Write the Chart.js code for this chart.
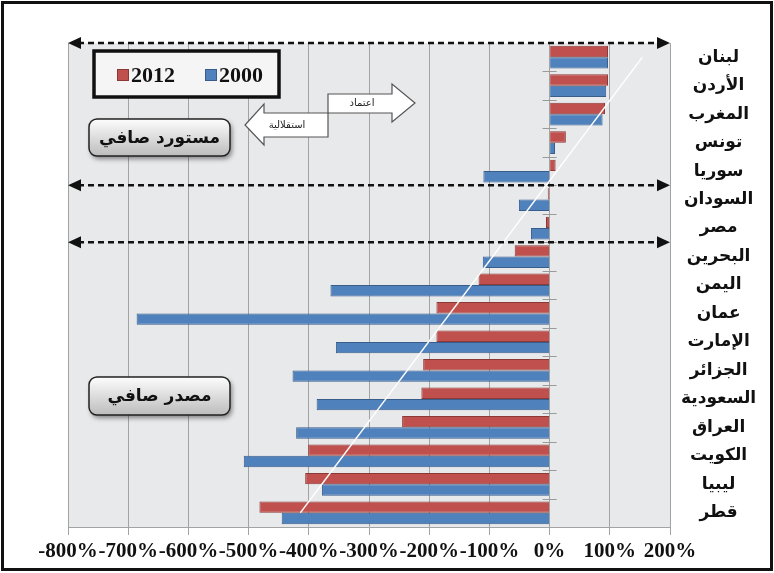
<!DOCTYPE html>
<html>
<head>
<meta charset="utf-8">
<script src="https://cdn.jsdelivr.net/npm/chart.js@4.4.0/dist/chart.umd.min.js"></script>
<style>
  html, body { margin: 0; padding: 0; background: #fff; }
  #wrap { width: 774px; height: 573px; position: relative; }
</style>
</head>
<body>
<div id="wrap"><canvas id="bar"></canvas></div>
<script>
// Data
var countries = ["لبنان", "الأردن", "المغرب", "تونس", "سوريا", "السودان", "مصر", "البحرين", "اليمن", "عمان", "الإمارت", "الجزائر", "السعودية", "العراق", "الكويت", "ليبيا", "قطر"];
var values2012 = [97, 97, 92, 27, 10, -3, -6, -58, -118, -188, -188, -210, -213, -245, -401, -406, -482];
var values2000 = [97, 94, 88, 9, -110, -51, -31, -111, -364, -686, -355, -427, -387, -421, -508, -378, -445];
var seriesNames = ["2012", "2000"];
var xMin = -800, xMax = 200, xStep = 100;
// white guide line, from Qatar to Lebanon
var trendCats = ["قطر", "لبنان"];
var trendValues = [-414, 154];
// dashed separators sit between these pairs of categories
var splitAfter = ["سوريا", "مصر"];

var RED = "#c0504d", RED_EDGE = "#8c3836";
var BLUE = "#4f81bd", BLUE_EDGE = "#385d8a";

function dashArrow(c, x1, x2, y) {
  c.save();
  c.strokeStyle = "#111";
  c.lineWidth = 2.5;
  c.setLineDash([6, 4]);
  c.beginPath();
  c.moveTo(x1 + 10, y);
  c.lineTo(x2 - 10, y);
  c.stroke();
  c.setLineDash([]);
  c.fillStyle = "#111";
  c.beginPath();
  c.moveTo(x1, y); c.lineTo(x1 + 13, y - 6); c.lineTo(x1 + 13, y + 6); c.closePath();
  c.fill();
  c.beginPath();
  c.moveTo(x2, y); c.lineTo(x2 - 13, y - 6); c.lineTo(x2 - 13, y + 6); c.closePath();
  c.fill();
  c.restore();
}

function pillBox(c, x, y, w, h, text) {
  c.save();
  c.shadowColor = "rgba(0,0,0,0.45)";
  c.shadowBlur = 5;
  c.shadowOffsetX = 2;
  c.shadowOffsetY = 3;
  var g = c.createLinearGradient(0, y, 0, y + h);
  g.addColorStop(0, "#fdfdfd");
  g.addColorStop(1, "#bcbcbc");
  c.fillStyle = g;
  c.beginPath();
  c.roundRect(x, y, w, h, 8);
  c.fill();
  c.shadowColor = "transparent";
  c.lineWidth = 1.5;
  c.strokeStyle = "#222";
  c.stroke();
  c.fillStyle = "#111";
  c.font = "bold 17px 'DejaVu Sans'";
  c.textAlign = "center";
  c.textBaseline = "middle";
  c.direction = "rtl";
  c.fillText(text, x + w / 2, y + h / 2 + 1);
  c.restore();
}

function blockArrow(c, pts, text, tx, ty) {
  c.save();
  c.fillStyle = "#fff";
  c.strokeStyle = "#555";
  c.lineWidth = 1.2;
  c.beginPath();
  c.moveTo(pts[0][0], pts[0][1]);
  for (var i = 1; i < pts.length; i++) c.lineTo(pts[i][0], pts[i][1]);
  c.closePath();
  c.fill();
  c.stroke();
  c.fillStyle = "#222";
  c.font = "10px 'DejaVu Sans'";
  c.textAlign = "center";
  c.textBaseline = "middle";
  c.direction = "rtl";
  c.fillText(text, tx, ty);
  c.restore();
}

var decor = {
  id: "decor",
  beforeDraw: function (chart) {
    var c = chart.ctx, a = chart.chartArea;
    c.save();
    c.fillStyle = "#e8e9eb";
    c.fillRect(a.left, a.top, a.right - a.left, a.bottom - a.top);
    c.restore();
  },
  afterDatasetsDraw: function (chart) {
    var c = chart.ctx, xs = chart.scales.x, ys = chart.scales.y;
    // small ticks on the zero axis
    c.save();
    c.strokeStyle = "#9a9a9a";
    c.lineWidth = 1;
    var x0 = xs.getPixelForValue(0);
    for (var i = 1; i < countries.length; i++) {
      var yy = Math.round(ys.getPixelForValue(i - 0.5)) + 0.5;
      c.beginPath();
      c.moveTo(x0 - 7, yy);
      c.lineTo(x0 + 7, yy);
      c.stroke();
    }
    // white guide line
    c.strokeStyle = "#fff";
    c.lineWidth = 1.3;
    c.beginPath();
    c.moveTo(xs.getPixelForValue(trendValues[0]), ys.getPixelForValue(countries.indexOf(trendCats[0])));
    c.lineTo(xs.getPixelForValue(trendValues[1]), ys.getPixelForValue(countries.indexOf(trendCats[1])));
    c.stroke();
    c.restore();
  },
  afterDraw: function (chart) {
    var c = chart.ctx, a = chart.chartArea, ys = chart.scales.y;
    // dashed double arrows
    dashArrow(c, a.left, a.right, a.top);
    splitAfter.forEach(function (name) {
      dashArrow(c, a.left, a.right, ys.getPixelForValue(countries.indexOf(name) + 0.5));
    });

    // legend box
    c.save();
    c.fillStyle = "#f5f5f5";
    c.fillRect(94, 51, 185, 46);
    c.lineWidth = 3.5;
    c.strokeStyle = "#111";
    c.strokeRect(94, 51, 185, 46);
    var ds = chart.data.datasets;
    var lx = [117, 205];
    for (var k = 0; k < ds.length; k++) {
      c.fillStyle = ds[k].backgroundColor;
      c.fillRect(lx[k], 69, 12, 12);
      c.strokeStyle = ds[k].borderColor;
      c.lineWidth = 1;
      c.strokeRect(lx[k] + 0.5, 69.5, 11, 11);
      c.fillStyle = "#111";
      c.font = "bold 22px 'Liberation Serif'";
      c.textBaseline = "alphabetic";
      c.textAlign = "left";
      c.fillText(ds[k].label, lx[k] + 14, 82);
    }
    c.restore();

    // import / export boxes
    pillBox(c, 89, 119, 141, 37, "مستورد صافي");
    pillBox(c, 89, 377, 141, 38, "مصدر صافي");

    // block arrows
    blockArrow(c, [[328, 94], [392, 94], [392, 84], [415, 103], [392, 122], [392, 113], [328, 113]], "اعتماد", 362, 103);
    blockArrow(c, [[328, 113], [264, 113], [264, 104], [245, 125], [264, 145], [264, 137], [328, 137]], "استقلالية", 287, 125);

    // outer frame
    c.save();
    c.strokeStyle = "#111";
    c.lineWidth = 3;
    c.strokeRect(2.5, 2.5, 769, 567);
    c.restore();
  }
};

var ctx = document.getElementById("bar").getContext("2d");
var myChart = new Chart(ctx, {
  type: "bar",
  data: {
    labels: countries,
    datasets: [
      {
        label: seriesNames[0],
        data: values2012,
        backgroundColor: RED,
        borderColor: RED_EDGE,
        borderWidth: 1,
      },
      {
        label: seriesNames[1],
        data: values2000,
        backgroundColor: BLUE,
        borderColor: BLUE_EDGE,
        borderWidth: 1,
      },
    ],
  },
  options: {
    indexAxis: "y",
    responsive: true,
    maintainAspectRatio: false,
    animation: false,
    categoryPercentage: 0.8,
    barPercentage: 1.0,
    layout: { padding: { left: 68, right: 0, top: 43, bottom: 0 } },
    plugins: {
      legend: { display: false },
      tooltip: { enabled: false },
    },
    scales: {
      x: {
        min: xMin,
        max: xMax,
        afterFit: function (s) { s.height = 46; },
        grid: { color: "#a3a3a3", lineWidth: 1, tickLength: 8, tickColor: "#a3a3a3" },
        border: { color: "#a3a3a3" },
        ticks: {
          stepSize: xStep,
          autoSkip: false,
          maxRotation: 0,
          padding: 4,
          color: "#111",
          font: { family: "'Liberation Serif'", size: 21, weight: "bold" },
          callback: function (v) { return v + "%"; },
        },
      },
      y: {
        position: "right",
        afterFit: function (s) { s.width = 104; },
        grid: { display: false, drawTicks: false },
        border: { display: false },
        ticks: {
          crossAlign: "center",
          padding: 11,
          color: "#111",
          font: { family: "'DejaVu Sans'", size: 17, weight: "bold" },
        },
      },
    },
  },
  plugins: [decor],
});
</script>
</body>
</html>
